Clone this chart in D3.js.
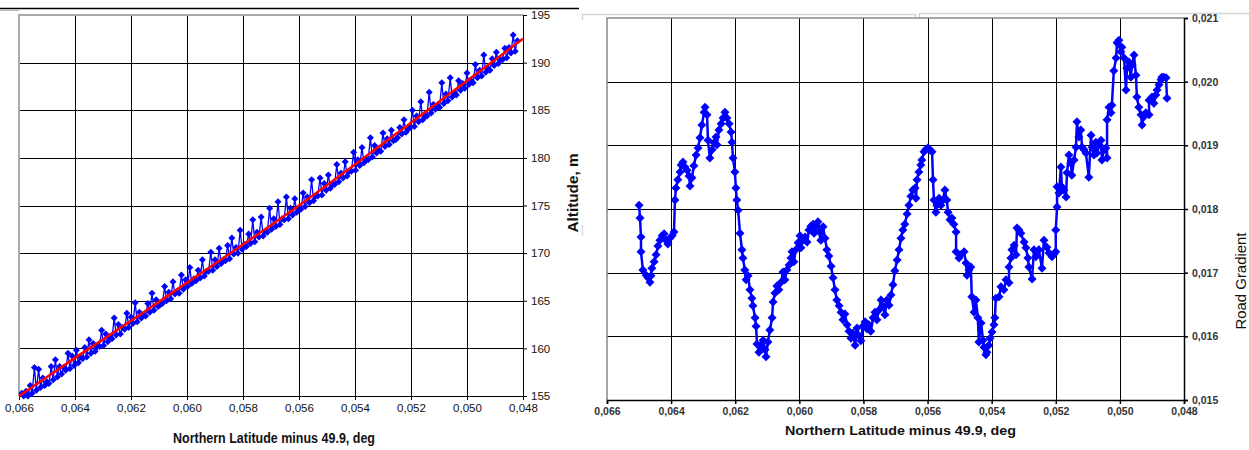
<!DOCTYPE html>
<html>
<head>
<meta charset="utf-8">
<script src="https://cdn.jsdelivr.net/npm/d3@7"></script>
<style>
  body { margin: 0; background: #fff; }
  text { font-family: "Liberation Sans", Arial, sans-serif; }
</style>
</head>
<body>
<div id="chart"></div>
<script>
// tick labels
const latTicks = [0.066, 0.064, 0.062, 0.060, 0.058, 0.056, 0.054, 0.052, 0.050, 0.048];
const altTicks = [155, 160, 165, 170, 175, 180, 185, 190, 195];
const gradTicks = [0.015, 0.016, 0.017, 0.018, 0.019, 0.020, 0.021];

// left panel: measured altitude
const altLat = [0.06590, 0.06583, 0.06575, 0.06568, 0.06560, 0.06553, 0.06545, 0.06538, 0.06530, 0.06523,
  0.06515, 0.06508, 0.06500, 0.06493, 0.06485, 0.06478, 0.06470, 0.06463, 0.06455, 0.06448,
  0.06440, 0.06433, 0.06425, 0.06418, 0.06410, 0.06403, 0.06395, 0.06388, 0.06380, 0.06373,
  0.06365, 0.06358, 0.06350, 0.06343, 0.06335, 0.06328, 0.06320, 0.06313, 0.06305, 0.06298,
  0.06290, 0.06283, 0.06275, 0.06268, 0.06260, 0.06253, 0.06245, 0.06238, 0.06230, 0.06223,
  0.06215, 0.06208, 0.06200, 0.06193, 0.06185, 0.06178, 0.06170, 0.06163, 0.06155, 0.06148,
  0.06140, 0.06133, 0.06125, 0.06118, 0.06110, 0.06103, 0.06095, 0.06088, 0.06080, 0.06073,
  0.06065, 0.06058, 0.06050, 0.06043, 0.06035, 0.06028, 0.06020, 0.06013, 0.06005, 0.05998,
  0.05990, 0.05983, 0.05975, 0.05968, 0.05960, 0.05953, 0.05945, 0.05938, 0.05930, 0.05923,
  0.05915, 0.05908, 0.05900, 0.05893, 0.05885, 0.05878, 0.05870, 0.05863, 0.05855, 0.05848,
  0.05840, 0.05833, 0.05825, 0.05818, 0.05810, 0.05803, 0.05795, 0.05788, 0.05780, 0.05773,
  0.05765, 0.05758, 0.05750, 0.05743, 0.05735, 0.05728, 0.05720, 0.05713, 0.05705, 0.05698,
  0.05690, 0.05683, 0.05675, 0.05668, 0.05660, 0.05653, 0.05645, 0.05638, 0.05630, 0.05623,
  0.05615, 0.05608, 0.05600, 0.05593, 0.05585, 0.05578, 0.05570, 0.05563, 0.05555, 0.05548,
  0.05540, 0.05533, 0.05525, 0.05518, 0.05510, 0.05503, 0.05495, 0.05488, 0.05480, 0.05473,
  0.05465, 0.05458, 0.05450, 0.05443, 0.05435, 0.05428, 0.05420, 0.05413, 0.05405, 0.05398,
  0.05390, 0.05383, 0.05375, 0.05368, 0.05360, 0.05353, 0.05345, 0.05338, 0.05330, 0.05323,
  0.05315, 0.05308, 0.05300, 0.05293, 0.05285, 0.05278, 0.05270, 0.05263, 0.05255, 0.05248,
  0.05240, 0.05233, 0.05225, 0.05218, 0.05210, 0.05203, 0.05195, 0.05188, 0.05180, 0.05173,
  0.05165, 0.05158, 0.05150, 0.05143, 0.05135, 0.05128, 0.05120, 0.05113, 0.05105, 0.05098,
  0.05090, 0.05083, 0.05075, 0.05068, 0.05060, 0.05053, 0.05045, 0.05038, 0.05030, 0.05023,
  0.05015, 0.05008, 0.05000, 0.04993, 0.04985, 0.04978, 0.04970, 0.04963, 0.04955, 0.04948,
  0.04940, 0.04933, 0.04925, 0.04918, 0.04910, 0.04903, 0.04895, 0.04888, 0.04880, 0.04873,
  0.04865, 0.04858, 0.04850, 0.04843, 0.04835, 0.04828, 0.04820];
const altValues = [155.3, 155.0, 155.5, 155.0, 156.1, 155.3, 158.0, 155.6, 157.8, 155.9,
  156.9, 156.1, 156.5, 156.3, 158.1, 156.7, 158.8, 157.0, 158.1, 157.3,
  158.0, 157.7, 159.5, 157.9, 159.2, 158.2, 159.8, 158.5, 159.1, 158.9,
  160.1, 159.1, 160.9, 159.5, 160.5, 159.7, 160.2, 160.2, 161.9, 160.3,
  161.5, 160.7, 161.2, 161.0, 163.2, 161.4, 162.5, 161.5, 162.2, 162.0,
  163.7, 162.2, 163.3, 162.6, 164.8, 162.8, 163.8, 163.2, 163.5, 163.4,
  164.7, 163.8, 165.8, 164.0, 165.1, 164.4, 164.6, 164.7, 166.5, 165.0,
  165.9, 165.2, 167.0, 165.7, 166.0, 165.8, 167.7, 166.2, 167.2, 166.5,
  168.5, 166.8, 167.3, 167.1, 168.2, 167.4, 169.3, 167.6, 168.1, 168.1,
  170.1, 168.2, 169.3, 168.6, 170.5, 168.9, 169.3, 169.2, 170.8, 169.4,
  171.6, 169.9, 170.6, 170.0, 172.4, 170.4, 170.9, 170.7, 172.0, 171.0,
  173.5, 171.2, 172.2, 171.7, 173.8, 171.8, 172.3, 172.2, 174.7, 172.5,
  173.6, 172.8, 175.4, 173.0, 173.6, 173.5, 175.9, 173.6, 174.7, 174.0,
  175.7, 174.3, 174.7, 174.6, 176.3, 174.9, 175.9, 175.3, 177.7, 175.5,
  176.0, 176.0, 177.9, 176.1, 177.3, 176.6, 178.2, 176.8, 177.2, 177.2,
  179.3, 177.5, 178.4, 177.9, 179.6, 178.1, 178.6, 178.6, 180.6, 178.7,
  179.8, 179.2, 181.1, 179.5, 179.8, 179.8, 182.1, 180.1, 181.3, 180.5,
  180.8, 180.7, 182.6, 181.2, 182.0, 181.4, 182.9, 181.8, 181.9, 182.1,
  183.2, 182.5, 184.0, 182.7, 183.0, 183.2, 185.0, 183.3, 184.4, 183.8,
  185.9, 184.0, 184.4, 184.4, 186.9, 184.7, 185.6, 185.1, 185.5, 185.3,
  187.9, 185.7, 186.7, 186.0, 188.4, 186.4, 186.8, 186.6, 188.1, 187.1,
  187.8, 187.3, 188.9, 187.7, 188.1, 187.9, 189.8, 188.4, 189.2, 188.6,
  190.8, 189.0, 189.4, 189.2, 190.4, 189.7, 191.1, 189.9, 190.3, 190.3,
  191.5, 190.5, 191.6, 191.0, 192.9, 191.2, 192.3];

// left panel: fitted trend
const fitLat = [0.066, 0.064, 0.062, 0.060, 0.058, 0.056, 0.054, 0.052, 0.050, 0.048];
const fitAlt = [155.0, 159.0, 162.9, 166.9, 170.9, 175.0, 179.3, 183.7, 188.1, 192.5];

// right panel: road gradient
const gradLat = [0.06500, 0.06497, 0.06494, 0.06494, 0.06488, 0.06478, 0.06472, 0.06466, 0.06463, 0.06460,
  0.06453, 0.06447, 0.06441, 0.06435, 0.06428, 0.06422, 0.06416, 0.06410, 0.06404, 0.06397,
  0.06391, 0.06388, 0.06385, 0.06379, 0.06372, 0.06369, 0.06363, 0.06357, 0.06350, 0.06344,
  0.06341, 0.06335, 0.06329, 0.06322, 0.06316, 0.06310, 0.06304, 0.06297, 0.06294, 0.06288,
  0.06285, 0.06279, 0.06272, 0.06266, 0.06260, 0.06257, 0.06251, 0.06244, 0.06238, 0.06232,
  0.06226, 0.06219, 0.06213, 0.06210, 0.06207, 0.06201, 0.06198, 0.06195, 0.06191, 0.06185,
  0.06179, 0.06176, 0.06170, 0.06166, 0.06160, 0.06154, 0.06148, 0.06145, 0.06138, 0.06135,
  0.06132, 0.06126, 0.06120, 0.06113, 0.06107, 0.06104, 0.06098, 0.06092, 0.06085, 0.06082,
  0.06076, 0.06070, 0.06064, 0.06057, 0.06051, 0.06045, 0.06039, 0.06032, 0.06026, 0.06023,
  0.06017, 0.06011, 0.06004, 0.05998, 0.05995, 0.05989, 0.05982, 0.05976, 0.05970, 0.05964,
  0.05957, 0.05954, 0.05948, 0.05942, 0.05939, 0.05933, 0.05926, 0.05920, 0.05914, 0.05908,
  0.05901, 0.05895, 0.05889, 0.05883, 0.05876, 0.05870, 0.05864, 0.05858, 0.05851, 0.05845,
  0.05839, 0.05833, 0.05826, 0.05820, 0.05814, 0.05808, 0.05802, 0.05795, 0.05789, 0.05783,
  0.05777, 0.05770, 0.05764, 0.05758, 0.05752, 0.05745, 0.05739, 0.05733, 0.05727, 0.05720,
  0.05714, 0.05708, 0.05702, 0.05695, 0.05689, 0.05683, 0.05677, 0.05671, 0.05664, 0.05658,
  0.05652, 0.05646, 0.05639, 0.05636, 0.05633, 0.05627, 0.05621, 0.05618, 0.05611, 0.05605,
  0.05599, 0.05593, 0.05586, 0.05583, 0.05580, 0.05574, 0.05571, 0.05564, 0.05558, 0.05552,
  0.05546, 0.05540, 0.05536, 0.05530, 0.05524, 0.05518, 0.05511, 0.05511, 0.05502, 0.05496,
  0.05486, 0.05480, 0.05477, 0.05471, 0.05465, 0.05462, 0.05455, 0.05449, 0.05443, 0.05440,
  0.05433, 0.05427, 0.05424, 0.05418, 0.05415, 0.05409, 0.05405, 0.05399, 0.05393, 0.05390,
  0.05387, 0.05377, 0.05371, 0.05362, 0.05355, 0.05346, 0.05346, 0.05340, 0.05337, 0.05330,
  0.05324, 0.05321, 0.05315, 0.05309, 0.05299, 0.05293, 0.05287, 0.05284, 0.05274, 0.05268,
  0.05262, 0.05253, 0.05243, 0.05237, 0.05228, 0.05221, 0.05212, 0.05206, 0.05200, 0.05200,
  0.05196, 0.05196, 0.05190, 0.05184, 0.05181, 0.05175, 0.05168, 0.05165, 0.05159, 0.05153,
  0.05150, 0.05143, 0.05137, 0.05134, 0.05128, 0.05122, 0.05118, 0.05112, 0.05106, 0.05097,
  0.05090, 0.05087, 0.05081, 0.05075, 0.05072, 0.05065, 0.05059, 0.05056, 0.05050, 0.05044,
  0.05040, 0.05040, 0.05034, 0.05028, 0.05025, 0.05019, 0.05012, 0.05009, 0.05003, 0.04997,
  0.04994, 0.04987, 0.04981, 0.04978, 0.04972, 0.04966, 0.04962, 0.04956, 0.04950, 0.04947,
  0.04941, 0.04934, 0.04931, 0.04925, 0.04919, 0.04909, 0.04909, 0.04900, 0.04894, 0.04888,
  0.04884, 0.04878, 0.04872, 0.04869, 0.04863, 0.04856, 0.04853];
const gradValues = [0.01806, 0.01786, 0.01756, 0.01733, 0.01704, 0.01696, 0.01692, 0.01685, 0.01695, 0.01707,
  0.01717, 0.01728, 0.01742, 0.01751, 0.01758, 0.01761, 0.01751, 0.01745, 0.01754, 0.01758,
  0.01764, 0.01814, 0.01833, 0.01846, 0.01858, 0.01869, 0.01874, 0.01866, 0.01861, 0.01852,
  0.01836, 0.01849, 0.01868, 0.01885, 0.01896, 0.01912, 0.01932, 0.01952, 0.01960, 0.01948,
  0.01908, 0.01880, 0.01893, 0.01904, 0.01913, 0.01901, 0.01924, 0.01934, 0.01943, 0.01952,
  0.01943, 0.01934, 0.01921, 0.01905, 0.01880, 0.01858, 0.01833, 0.01814, 0.01798, 0.01762,
  0.01736, 0.01723, 0.01704, 0.01689, 0.01695, 0.01673, 0.01660, 0.01648, 0.01629, 0.01616,
  0.01588, 0.01575, 0.01586, 0.01594, 0.01579, 0.01568, 0.01591, 0.01610, 0.01629, 0.01654,
  0.01668, 0.01679, 0.01673, 0.01685, 0.01701, 0.01689, 0.01704, 0.01712, 0.01723, 0.01733,
  0.01717, 0.01736, 0.01747, 0.01758, 0.01739, 0.01751, 0.01756, 0.01748, 0.01767, 0.01773,
  0.01776, 0.01762, 0.01775, 0.01780, 0.01765, 0.01751, 0.01772, 0.01754, 0.01736, 0.01726,
  0.01710, 0.01692, 0.01673, 0.01657, 0.01648, 0.01638, 0.01626, 0.01635, 0.01618, 0.01608,
  0.01597, 0.01605, 0.01586, 0.01613, 0.01601, 0.01593, 0.01616, 0.01623, 0.01612, 0.01618,
  0.01608, 0.01629, 0.01638, 0.01626, 0.01641, 0.01657, 0.01648, 0.01634, 0.01657, 0.01649,
  0.01665, 0.01681, 0.01703, 0.01720, 0.01736, 0.01754, 0.01767, 0.01776, 0.01792, 0.01806,
  0.01820, 0.01830, 0.01833, 0.01817, 0.01846, 0.01858, 0.01869, 0.01877, 0.01890, 0.01894,
  0.01896, 0.01893, 0.01890, 0.01846, 0.01814, 0.01795, 0.01806, 0.01817, 0.01806, 0.01814,
  0.01830, 0.01814, 0.01795, 0.01783, 0.01786, 0.01776, 0.01764, 0.01733, 0.01723, 0.01728,
  0.01733, 0.01715, 0.01696, 0.01704, 0.01709, 0.01662, 0.01638, 0.01657, 0.01629, 0.01591,
  0.01621, 0.01594, 0.01583, 0.01571, 0.01575, 0.01586, 0.01597, 0.01607, 0.01618, 0.01629,
  0.01660, 0.01662, 0.01678, 0.01673, 0.01689, 0.01684, 0.01709, 0.01723, 0.01736, 0.01743,
  0.01728, 0.01770, 0.01767, 0.01762, 0.01748, 0.01739, 0.01723, 0.01709, 0.01690, 0.01736,
  0.01725, 0.01736, 0.01707, 0.01751, 0.01740, 0.01731, 0.01725, 0.01729, 0.01733, 0.01767,
  0.01803, 0.01835, 0.01825, 0.01866, 0.01835, 0.01830, 0.01819, 0.01857, 0.01885, 0.01872,
  0.01853, 0.01877, 0.01897, 0.01937, 0.01913, 0.01924, 0.01897, 0.01893, 0.01888, 0.01850,
  0.01916, 0.01897, 0.01885, 0.01905, 0.01888, 0.01901, 0.01908, 0.01877, 0.01893, 0.01896,
  0.01880, 0.01940, 0.01960, 0.01951, 0.01963, 0.02017, 0.02037, 0.02061, 0.02065, 0.02047,
  0.02054, 0.02037, 0.01987, 0.02021, 0.02031, 0.02007, 0.02026, 0.02042, 0.02010, 0.01976,
  0.01960, 0.01948, 0.01932, 0.01945, 0.01951, 0.01948, 0.01971, 0.01976, 0.01966, 0.01979,
  0.01987, 0.01995, 0.02003, 0.02007, 0.02007, 0.02006, 0.01974];

const commaFmt = v => d3.format(".3f")(v).replace(".", ",");

const svg = d3.select("#chart").append("svg")
    .attr("width", 1249)
    .attr("height", 450);

// frame lines from the original screenshots
svg.append("line").attr("x1", 0).attr("x2", 579).attr("y1", 8.5).attr("y2", 8.5)
    .attr("stroke", "#000").attr("stroke-width", 1.5);
svg.append("line").attr("x1", 0).attr("x2", 19).attr("y1", 10.5).attr("y2", 10.5)
    .attr("stroke", "#bbb").attr("stroke-width", 1);
svg.append("path").attr("d", "M582.5,20V14.5H915.5V18").attr("fill", "none")
    .attr("stroke", "#d4d4d4").attr("stroke-width", 1.5);
svg.append("path").attr("d", "M919.5,17V13.5H1249").attr("fill", "none")
    .attr("stroke", "#d4d4d4").attr("stroke-width", 1.5);
svg.append("line").attr("x1", 582.5).attr("x2", 582.5).attr("y1", 225).attr("y2", 236)
    .attr("stroke", "#ddd").attr("stroke-width", 1.5);

// ---------- left panel ----------
const xL = d3.scaleLinear().domain([0.066, 0.048]).range([19, 523]);
const yL = d3.scaleLinear().domain([155, 195]).range([396, 15]);

const left = svg.append("g");

// grid
left.append("g")
    .attr("transform", "translate(0,396)")
    .call(d3.axisBottom(xL).tickValues(latTicks.slice(1, -1)).tickSize(-381).tickFormat(""))
    .call(g => g.select(".domain").remove())
    .call(g => g.selectAll("line").attr("stroke", "#000").attr("shape-rendering", "crispEdges"));
left.append("g")
    .attr("transform", "translate(523,0)")
    .call(d3.axisRight(yL).tickValues(altTicks.slice(1, -1)).tickSize(-504).tickFormat(""))
    .call(g => g.select(".domain").remove())
    .call(g => g.selectAll("line").attr("stroke", "#000").attr("shape-rendering", "crispEdges"));

// plot border (left and top)
left.append("path")
    .attr("d", `M${xL(0.066)},${yL(155)}V${yL(195)}H${xL(0.048)}`)
    .attr("fill", "none").attr("stroke", "#aaa").attr("stroke-width", 2);

// axes
left.append("g")
    .attr("transform", "translate(0,396)")
    .call(d3.axisBottom(xL).tickValues(latTicks).tickSize(4).tickPadding(4).tickFormat(commaFmt))
    .call(g => g.selectAll("line, .domain").attr("stroke", "#000"))
    .call(g => g.selectAll("text").attr("fill", "#111")
        .style("font-family", "'Liberation Sans Narrow', 'Arial Narrow', sans-serif")
        .style("font-size", "11.5px"));
left.append("g")
    .attr("transform", "translate(523,0)")
    .call(d3.axisRight(yL).tickValues(altTicks).tickSize(4).tickPadding(4).tickFormat(d3.format("d")))
    .call(g => g.selectAll("line, .domain").attr("stroke", "#000"))
    .call(g => g.selectAll("text").attr("fill", "#111")
        .style("font-family", "'Liberation Sans Narrow', 'Arial Narrow', sans-serif")
        .style("font-size", "11.5px"));

// measured points
const altLine = d3.line()
    .x((d, i) => xL(altLat[i]))
    .y(d => yL(d));
left.append("path")
    .datum(altValues)
    .attr("d", altLine)
    .attr("fill", "none")
    .attr("stroke", "#0000ff")
    .attr("stroke-width", 1.3);
left.selectAll(".pt")
    .data(altValues)
    .enter().append("path")
    .attr("class", "pt")
    .attr("d", "M0,-3.5L3.5,0L0,3.5L-3.5,0Z")
    .attr("transform", (d, i) => `translate(${xL(altLat[i])},${yL(d)})`)
    .attr("fill", "#0000ff");

// fitted trend
left.append("path")
    .datum(fitAlt)
    .attr("d", d3.line().x((d, i) => xL(fitLat[i])).y(d => yL(d)).curve(d3.curveMonotoneX))
    .attr("fill", "none")
    .attr("stroke", "#ff0000")
    .attr("stroke-width", 2.5);

// titles
left.append("text")
    .attr("x", 274).attr("y", 443)
    .attr("text-anchor", "middle")
    .attr("textLength", 202).attr("lengthAdjust", "spacingAndGlyphs")
    .style("font-family", "'Liberation Sans Narrow', 'Arial Narrow', sans-serif")
    .style("font-size", "14px").style("font-weight", "bold")
    .attr("fill", "#111")
    .text("Northern Latitude minus 49.9, deg");
left.append("text")
    .attr("transform", "translate(578,193) rotate(-90)")
    .attr("text-anchor", "middle")
    .attr("textLength", 79).attr("lengthAdjust", "spacingAndGlyphs")
    .style("font-size", "14.5px").style("font-weight", "bold")
    .attr("fill", "#111")
    .text("Altitude, m");

// ---------- right panel ----------
const xR = d3.scaleLinear().domain([0.066, 0.048]).range([607, 1184]);
const yR = d3.scaleLinear().domain([0.015, 0.021]).range([400, 18]);

const right = svg.append("g");

right.append("g")
    .attr("transform", "translate(0,400)")
    .call(d3.axisBottom(xR).tickValues(latTicks.slice(1, -1)).tickSize(-382).tickFormat(""))
    .call(g => g.select(".domain").remove())
    .call(g => g.selectAll("line").attr("stroke", "#000").attr("shape-rendering", "crispEdges"));
right.append("g")
    .attr("transform", "translate(1184,0)")
    .call(d3.axisRight(yR).tickValues(gradTicks.slice(1, -1)).tickSize(-577).tickFormat(""))
    .call(g => g.select(".domain").remove())
    .call(g => g.selectAll("line").attr("stroke", "#000").attr("shape-rendering", "crispEdges"));

right.append("path")
    .attr("d", `M${xR(0.066)},${yR(0.015)}V${yR(0.021)}H${xR(0.048)}`)
    .attr("fill", "none").attr("stroke", "#888").attr("stroke-width", 1.5);

right.append("g")
    .attr("transform", "translate(0,400)")
    .call(d3.axisBottom(xR).tickValues(latTicks).tickSize(4).tickPadding(4).tickFormat(commaFmt))
    .call(g => g.selectAll("line, .domain").attr("stroke", "#000").attr("stroke-width", 1.5))
    .call(g => g.selectAll("text").attr("fill", "#333")
        .style("font-size", "10.5px").style("font-weight", "bold"));
right.append("g")
    .attr("transform", "translate(1184,0)")
    .call(d3.axisRight(yR).tickValues(gradTicks).tickSize(4).tickPadding(4).tickFormat(commaFmt))
    .call(g => g.selectAll("line, .domain").attr("stroke", "#000").attr("stroke-width", 1.5))
    .call(g => g.selectAll("text").attr("fill", "#333")
        .style("font-size", "10.5px").style("font-weight", "bold"));

const gradLine = d3.line()
    .x((d, i) => xR(gradLat[i]))
    .y(d => yR(d));
right.append("path")
    .datum(gradValues)
    .attr("d", gradLine)
    .attr("fill", "none")
    .attr("stroke", "#0000ff")
    .attr("stroke-width", 2.5);
right.selectAll(".pt")
    .data(gradValues)
    .enter().append("path")
    .attr("class", "pt")
    .attr("d", "M0,-4.5L4.5,0L0,4.5L-4.5,0Z")
    .attr("transform", (d, i) => `translate(${xR(gradLat[i])},${yR(d)})`)
    .attr("fill", "#0000ff");

right.append("text")
    .attr("x", 900.5).attr("y", 434.5)
    .attr("text-anchor", "middle")
    .attr("textLength", 231).attr("lengthAdjust", "spacingAndGlyphs")
    .style("font-size", "13.5px").style("font-weight", "bold")
    .attr("fill", "#111")
    .text("Northern Latitude minus 49.9, deg");
right.append("text")
    .attr("transform", "translate(1246,281) rotate(-90)")
    .attr("text-anchor", "middle")
    .attr("textLength", 97).attr("lengthAdjust", "spacingAndGlyphs")
    .style("font-size", "15px")
    .attr("fill", "#111")
    .text("Road Gradient");
</script>
</body>
</html>
